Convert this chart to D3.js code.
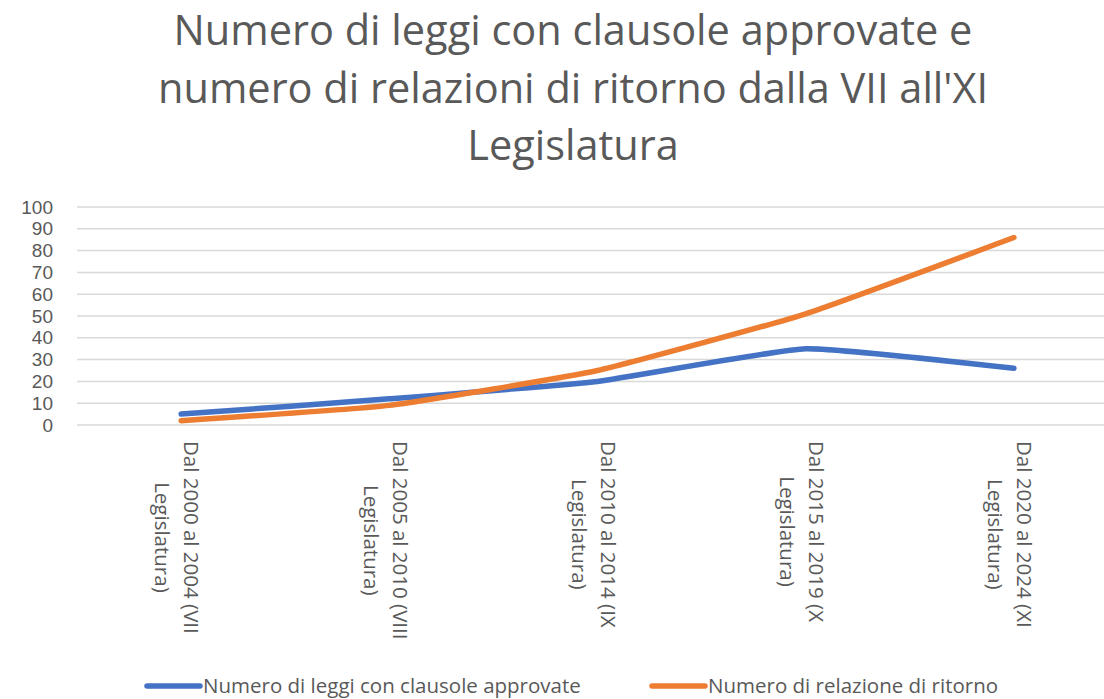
<!DOCTYPE html>
<html>
<head>
  <meta charset="utf-8">
  <title>Leggi con clausole e relazioni di ritorno</title>
  <script src="https://d3js.org/d3.v7.min.js"></script>
  <style>
    body { margin: 0; background: #fff; }
    svg { display: block; }
  </style>
</head>
<body>
  <svg id="chart"></svg>
  <script>
    // data
    const categories = [
      "Dal 2000 al 2004 (VII Legislatura)",
      "Dal 2005 al 2010 (VIII Legislatura)",
      "Dal 2010 al 2014 (IX Legislatura)",
      "Dal 2015 al 2019 (X Legislatura)",
      "Dal 2020 al 2024 (XI Legislatura)"
    ];
    const leggi = [5, 12, 20, 35, 26];
    const relazioni = [2, 9, 25, 51, 86];
    const yTicks = [0, 10, 20, 30, 40, 50, 60, 70, 80, 90, 100];
    const seriesNames = ["Numero di leggi con clausole approvate", "Numero di relazione di ritorno"];
    const titleLines = [
      "Numero di leggi con clausole approvate e",
      "numero di relazioni di ritorno dalla VII all'XI",
      "Legislatura"
    ];

    const width = 1104, height = 699;
    const font = "'Open Sans', 'DejaVu Sans', sans-serif";
    const textColor = "#595959";

    const svg = d3.select("#chart")
      .attr("width", width)
      .attr("height", height);

    // title
    svg.append("g")
      .selectAll("text")
      .data(titleLines)
      .join("text")
        .attr("x", 573)
        .attr("y", (d, i) => 45 + i * 57.5)
        .attr("text-anchor", "middle")
        .style("font-family", font)
        .style("font-size", "41.5px")
        .attr("fill", textColor)
        .text(d => d);

    const x = d3.scalePoint()
      .domain(categories)
      .range([77, 1118])
      .padding(0.5);

    const y = d3.scaleLinear()
      .domain([0, 100])
      .range([425, 207]);

    // gridlines
    svg.append("g")
      .selectAll("line")
      .data(yTicks)
      .join("line")
        .attr("x1", 77)
        .attr("x2", 1118)
        .attr("y1", d => y(d))
        .attr("y2", d => y(d))
        .attr("stroke", "#d9d9d9")
        .attr("stroke-width", 1.5);

    // y axis labels
    const yAxis = svg.append("g")
      .attr("transform", "translate(60,0)")
      .call(d3.axisLeft(y).tickValues(yTicks).tickSize(0).tickPadding(7));
    yAxis.select(".domain").remove();
    yAxis.selectAll("text")
      .style("font-family", "'Liberation Sans', Arial, sans-serif")
      .style("font-size", "19px")
      .attr("fill", textColor);

    // rotated category labels, two lines each, second line centred on the first
    const xl = svg.append("g")
      .selectAll("g")
      .data(categories)
      .join("g")
        .attr("transform", d => `translate(${x(d)},441) rotate(90)`);

    xl.each(function(d) {
      const g = d3.select(this);
      const cut = d.lastIndexOf(" ");
      const l1 = g.append("text")
        .attr("x", 0)
        .attr("y", -10.5)
        .attr("dy", "0.35em")
        .style("font-family", font)
        .style("font-size", "20.5px")
        .attr("fill", textColor)
        .text(d.slice(0, cut));
      const w = l1.node().getComputedTextLength();
      g.append("text")
        .attr("x", w / 2)
        .attr("y", 18.5)
        .attr("dy", "0.35em")
        .attr("text-anchor", "middle")
        .style("font-family", font)
        .style("font-size", "20.5px")
        .attr("fill", textColor)
        .text(d.slice(cut + 1));
    });

    // lines
    const line = d3.line()
      .x((d, i) => x(categories[i]))
      .y(d => y(d))
      .curve(d3.curveCardinal.tension(0.6));

    const series = [
      { values: leggi, color: "#4472C4" },
      { values: relazioni, color: "#ED7D31" }
    ];

    svg.append("g")
      .selectAll("path")
      .data(series)
      .join("path")
        .attr("d", d => line(d.values))
        .attr("fill", "none")
        .attr("stroke", d => d.color)
        .attr("stroke-width", 5.5)
        .attr("stroke-linecap", "round")
        .attr("stroke-linejoin", "round");

    // legend
    const legendX = [145, 650];
    const legend = svg.append("g")
      .selectAll("g")
      .data(series)
      .join("g")
        .attr("transform", (d, i) => `translate(${legendX[i]},686)`);

    legend.append("line")
      .attr("x1", 2)
      .attr("x2", 55)
      .attr("stroke", d => d.color)
      .attr("stroke-width", 5.5)
      .attr("stroke-linecap", "round");

    legend.append("text")
      .attr("x", 58)
      .attr("dy", "0.35em")
      .style("font-family", font)
      .style("font-size", "20.5px")
      .attr("fill", textColor)
      .text((d, i) => seriesNames[i]);
  </script>
</body>
</html>
